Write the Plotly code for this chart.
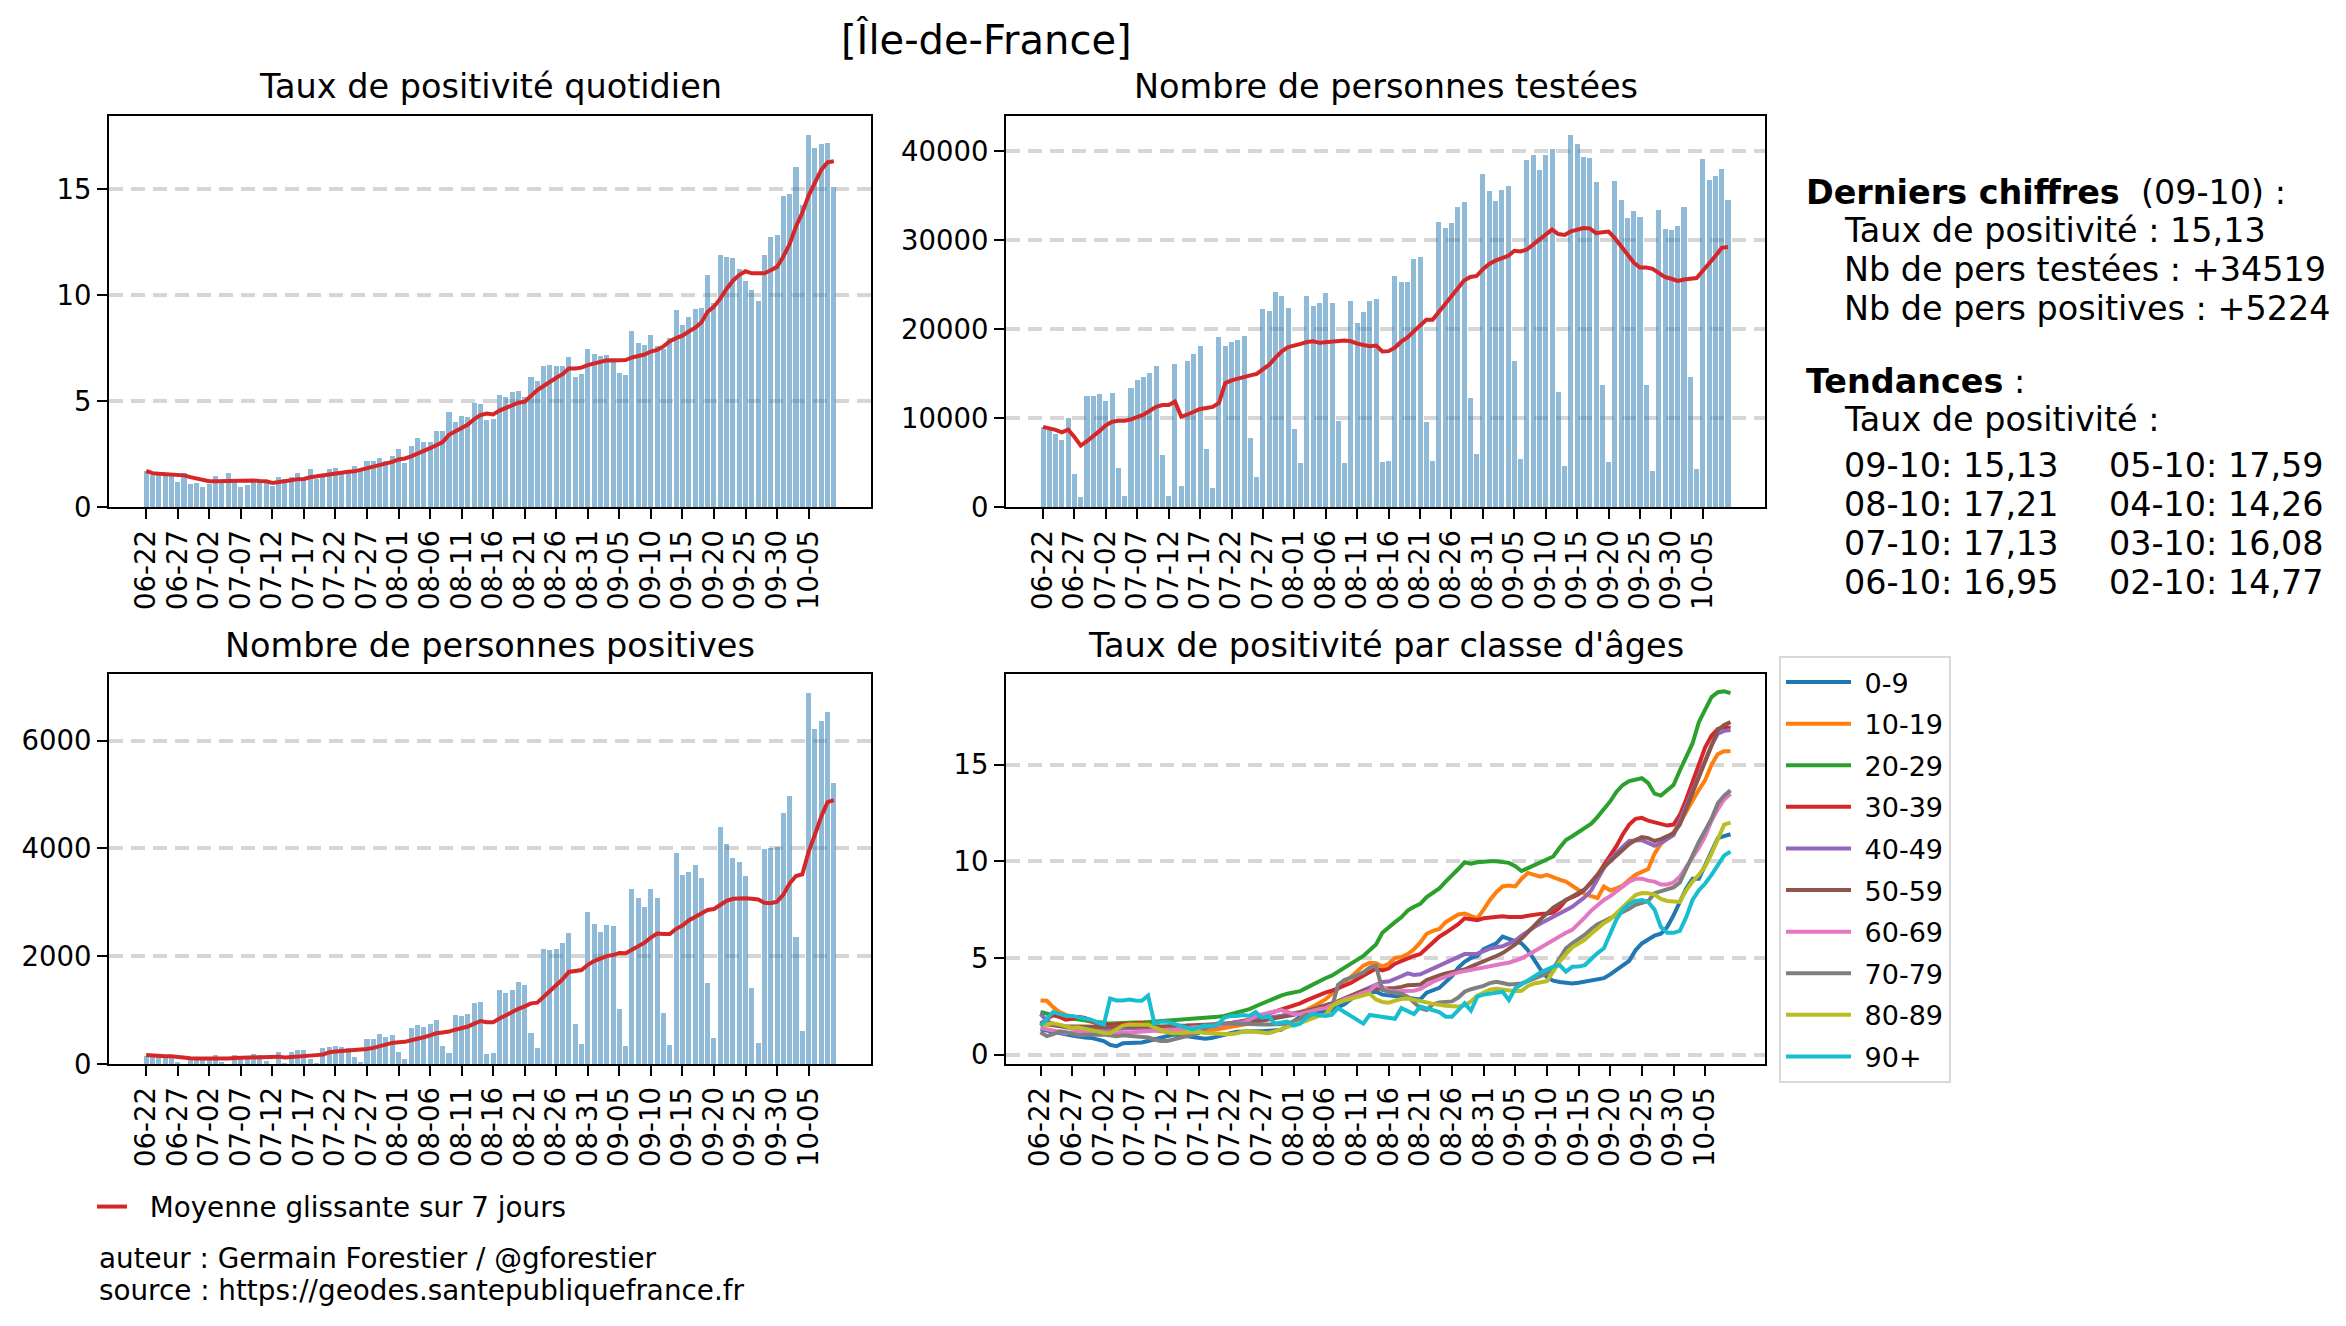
import pandas as pd
import plotly.graph_objects as go

# page is 2346x1326; the html body keeps an 8px margin, so the figure is 16px smaller
PAGE_W, PAGE_H = 2346, 1326
BODY_MARGIN = 8
W, H = PAGE_W - 2 * BODY_MARGIN, PAGE_H - 2 * BODY_MARGIN
FONT = "DejaVu Sans"

# ---------------- data ----------------
DATES = pd.date_range("2020-06-22", "2020-10-09").strftime("%m-%d").tolist()
TICK_LABELS = DATES[::5]

TAUX = [1.70, 1.50, 1.50, 1.50, 1.46, 1.20, 1.60, 1.10, 1.13, 0.95,
        1.07, 1.46, 1.26, 1.60, 1.20, 0.95, 1.04, 1.26, 1.26, 1.23,
        1.00, 1.40, 1.32, 1.40, 1.60, 1.32, 1.80, 1.32, 1.57, 1.80,
        1.84, 1.67, 1.67, 1.92, 1.80, 2.17, 2.17, 2.30, 2.17, 2.39,
        2.74, 2.09, 2.86, 3.24, 3.07, 3.05, 3.60, 3.58, 4.47, 4.00,
        4.30, 4.25, 4.90, 4.87, 4.12, 4.15, 5.27, 5.19, 5.42, 5.47,
        5.22, 6.13, 5.94, 6.64, 6.70, 6.64, 6.64, 7.08, 6.13, 6.26,
        7.48, 7.25, 7.12, 7.17, 7.04, 6.32, 6.23, 8.30, 7.74, 7.63,
        8.14, 7.61, 7.45, 7.96, 9.29, 8.58, 8.99, 9.37, 9.40, 10.97,
        9.65, 11.92, 11.79, 11.74, 11.23, 10.66, 10.27, 9.72, 11.89, 12.77,
        12.86, 14.67, 14.77, 16.08, 14.26, 17.59, 16.95, 17.13, 17.21, 15.13]

TESTES = [9006, 8743, 8255, 7542, 9981, 3677, 1126, 12458, 12458, 12683,
          11932, 12833, 4390, 1238, 13396, 14259, 14634, 15047, 15835, 5854,
          1238, 16060, 2364, 16435, 17186, 18086, 6529, 2139, 19099, 18086,
          18574, 18762, 19212, 7730, 3377, 22289, 22064, 24203, 23752, 22402,
          8780, 4953, 23752, 22627, 22964, 24090, 22964, 9681, 4953, 23189,
          20713, 21951, 23189, 23415, 5066, 5178, 26004, 25328, 25328, 27917,
          28142, 9568, 5178, 32083, 31407, 31970, 33771, 34334, 12308, 5966,
          37486, 35572, 34446, 35685, 36135, 16435, 5403, 39062, 39625, 37936,
          39625, 40300, 12946, 4615, 41876, 40863, 39400, 39287, 36585, 13733,
          5066, 36698, 34559, 32533, 33321, 32645, 13733, 4053, 33433, 31295,
          31182, 31632, 33771, 14634, 4278, 39175, 36810, 37261, 38049, 34519]

POSITIFS = [167, 142, 142, 130, 142, 40, 15, 124, 124, 124,
            117, 173, 50, 15, 173, 142, 142, 192, 173, 68,
            12, 229, 28, 229, 266, 266, 110, 25, 303, 321,
            340, 321, 303, 142, 43, 470, 470, 562, 507, 544,
            229, 99, 674, 729, 692, 748, 822, 340, 210, 915,
            896, 933, 1137, 1156, 192, 210, 1378, 1329, 1378, 1526,
            1477, 581, 303, 2138, 2120, 2138, 2249, 2435, 748, 377,
            2824, 2602, 2453, 2583, 2565, 1026, 340, 3251, 3084, 2917,
            3251, 3084, 952, 358, 3918, 3510, 3566, 3696, 3455, 1508,
            488, 4400, 4085, 3825, 3751, 3492, 1415, 396, 3992, 4011,
            4030, 4660, 4975, 2361, 618, 6903, 6236, 6384, 6551, 5224]

AGE_CLASSES = ["0-9", "10-19", "20-29", "30-39", "40-49",
               "50-59", "60-69", "70-79", "80-89", "90+"]
AGE_COLORS = ["#1f77b4", "#ff7f0e", "#2ca02c", "#d62728", "#9467bd",
              "#8c564b", "#e377c2", "#7f7f7f", "#bcbd22", "#17becf"]

TAUX_0_9 = [1.30, 1.25, 1.20, 1.12, 1.05, 0.98, 0.92, 0.88, 0.86, 0.80,
            0.70, 0.50, 0.43, 0.58, 0.60, 0.60, 0.62, 0.70, 0.77, 0.85,
            0.95, 1.03, 1.00, 0.96, 0.94, 0.88, 0.82, 0.85, 0.95, 1.03,
            1.10, 1.18, 1.20, 1.22, 1.20, 1.20, 1.22, 1.25, 1.28, 1.50,
            1.75, 1.95, 2.05, 2.10, 2.15, 2.20, 2.30, 2.45, 2.60, 2.85,
            3.15, 3.20, 3.25, 3.25, 3.10, 3.05, 3.02, 3.00, 2.95, 2.85,
            2.85, 3.20, 3.35, 3.45, 3.75, 4.05, 4.50, 4.80, 5.00, 5.10,
            5.45, 5.60, 5.75, 6.10, 6.00, 5.90, 5.75, 5.40, 4.90, 4.40,
            4.00, 3.82, 3.75, 3.70, 3.68, 3.72, 3.77, 3.80, 3.86, 3.95,
            4.15, 4.40, 4.60, 4.85, 5.40, 5.75, 5.95, 6.15, 6.25, 6.60,
            7.20, 7.90, 8.60, 9.10, 9.10, 9.80, 10.50, 11.20, 11.30, 11.40]

TAUX_10_19 = [2.80, 2.78, 2.45, 2.20, 2.05, 1.95, 1.85, 1.75, 1.65, 1.60,
              1.55, 1.50, 1.45, 1.42, 1.40, 1.38, 1.35, 1.30, 1.25, 1.20,
              1.15, 1.12, 1.10, 1.10, 1.12, 1.15, 1.20, 1.25, 1.30, 1.35,
              1.40, 1.45, 1.50, 1.55, 1.65, 1.75, 1.85, 1.95, 2.00, 2.08,
              2.12, 2.20, 2.30, 2.45, 2.65, 2.85, 3.10, 3.40, 3.70, 4.00,
              4.35, 4.60, 4.75, 4.72, 4.55, 4.70, 5.00, 5.05, 5.20, 5.45,
              5.80, 6.25, 6.40, 6.50, 6.85, 7.05, 7.25, 7.30, 7.15, 7.05,
              7.50, 8.00, 8.40, 8.70, 8.75, 8.70, 9.10, 9.40, 9.30, 9.20,
              9.30, 9.15, 9.05, 8.95, 8.75, 8.50, 8.30, 8.20, 8.10, 8.70,
              8.50, 8.60, 8.75, 9.05, 9.30, 9.45, 9.60, 10.40, 10.90, 11.20,
              11.50, 12.00, 12.60, 13.20, 13.70, 14.20, 15.00, 15.55, 15.70, 15.70]

TAUX_20_29 = [2.20, 2.10, 2.00, 1.95, 1.90, 1.85, 1.80, 1.75, 1.72, 1.68,
              1.62, 1.60, 1.62, 1.65, 1.65, 1.66, 1.66, 1.68, 1.70, 1.72,
              1.76, 1.80, 1.82, 1.85, 1.87, 1.88, 1.88, 1.90, 1.95, 2.00,
              2.08, 2.15, 2.25, 2.35, 2.50, 2.65, 2.80, 2.92, 3.05, 3.15,
              3.22, 3.28, 3.45, 3.62, 3.80, 3.95, 4.08, 4.30, 4.50, 4.70,
              4.90, 5.10, 5.40, 5.70, 6.30, 6.60, 6.85, 7.10, 7.45, 7.65,
              7.80, 8.15, 8.40, 8.60, 8.95, 9.25, 9.60, 9.95, 9.88, 9.95,
              10.00, 10.00, 10.00, 9.98, 9.92, 9.75, 9.50, 9.65, 9.80, 9.90,
              10.10, 10.25, 10.70, 11.10, 11.30, 11.50, 11.70, 11.95, 12.30, 12.70,
              13.10, 13.60, 13.95, 14.15, 14.25, 14.30, 14.05, 13.50, 13.40, 13.65,
              13.95, 14.70, 15.35, 16.10, 17.20, 17.90, 18.50, 18.75, 18.80, 18.70]

TAUX_30_39 = [1.60, 1.85, 2.05, 1.95, 1.80, 1.85, 1.95, 1.90, 1.75, 1.60,
              1.55, 1.52, 1.55, 1.58, 1.60, 1.62, 1.63, 1.55, 1.40, 1.30,
              1.28, 1.30, 1.32, 1.35, 1.38, 1.40, 1.42, 1.45, 1.50, 1.55,
              1.60, 1.65, 1.70, 1.80, 1.90, 2.00, 2.10, 2.20, 2.35, 2.45,
              2.55, 2.65, 2.80, 2.95, 3.10, 3.20, 3.30, 3.42, 3.55, 3.70,
              3.90, 4.10, 4.30, 4.45, 4.35, 4.45, 4.70, 4.85, 5.00, 5.10,
              5.20, 5.50, 5.85, 6.10, 6.30, 6.50, 6.75, 7.05, 7.00, 6.95,
              7.05, 7.10, 7.15, 7.15, 7.12, 7.10, 7.12, 7.18, 7.25, 7.28,
              7.30, 7.35, 7.60, 8.00, 8.15, 8.30, 8.55, 8.90, 9.30, 9.80,
              10.30, 10.80, 11.40, 11.90, 12.20, 12.25, 12.10, 12.00, 11.90, 11.85,
              11.90, 12.40, 13.20, 14.10, 15.10, 15.90, 16.50, 16.85, 16.95, 16.90]

TAUX_40_49 = [2.10, 1.75, 1.55, 1.45, 1.40, 1.38, 1.35, 1.35, 1.35, 1.33,
              1.30, 1.30, 1.32, 1.35, 1.38, 1.40, 1.40, 1.40, 1.38, 1.35,
              1.35, 1.38, 1.40, 1.42, 1.45, 1.48, 1.50, 1.52, 1.55, 1.58,
              1.62, 1.66, 1.70, 1.75, 1.80, 1.85, 1.90, 1.95, 2.00, 2.05,
              2.10, 2.15, 2.20, 2.30, 2.40, 2.50, 2.62, 2.75, 2.90, 3.05,
              3.15, 3.30, 3.45, 3.65, 3.75, 3.78, 3.90, 4.05, 4.20, 4.12,
              4.15, 4.30, 4.45, 4.60, 4.75, 4.88, 5.05, 5.20, 5.20, 5.22,
              5.35, 5.48, 5.55, 5.60, 5.75, 5.90, 6.15, 6.40, 6.60, 6.78,
              6.95, 7.15, 7.30, 7.45, 7.65, 7.90, 8.15, 8.50, 9.10, 9.65,
              10.10, 10.45, 10.75, 11.05, 11.10, 11.10, 10.95, 10.80, 10.95, 11.15,
              11.35, 12.10, 12.90, 13.70, 14.50, 15.20, 16.00, 16.60, 16.75, 16.80]

TAUX_50_59 = [1.60, 1.55, 1.50, 1.48, 1.46, 1.45, 1.45, 1.44, 1.42, 1.40,
              1.40, 1.42, 1.45, 1.46, 1.46, 1.48, 1.50, 1.50, 1.48, 1.45,
              1.45, 1.48, 1.50, 1.50, 1.52, 1.55, 1.55, 1.56, 1.58, 1.58,
              1.60, 1.62, 1.62, 1.65, 1.70, 1.75, 1.80, 1.85, 1.92, 2.00,
              2.05, 2.15, 2.25, 2.35, 2.45, 2.52, 2.62, 2.75, 2.90, 3.05,
              3.18, 3.30, 3.38, 3.42, 3.40, 3.40, 3.45, 3.50, 3.58, 3.60,
              3.62, 3.85, 4.00, 4.10, 4.20, 4.25, 4.32, 4.40, 4.55, 4.68,
              4.80, 4.95, 5.10, 5.25, 5.45, 5.70, 6.00, 6.35, 6.70, 7.00,
              7.30, 7.60, 7.80, 8.00, 8.15, 8.35, 8.55, 8.90, 9.30, 9.70,
              10.00, 10.30, 10.65, 10.90, 11.10, 11.25, 11.20, 11.05, 11.15, 11.30,
              11.45, 11.90, 12.70, 13.50, 14.35, 15.20, 16.00, 16.80, 17.05, 17.20]

TAUX_60_69 = [1.37, 1.30, 1.22, 1.12, 1.10, 1.15, 1.20, 1.20, 1.18, 1.15,
              1.12, 1.10, 1.10, 1.12, 1.15, 1.18, 1.20, 1.20, 1.22, 1.25,
              1.28, 1.28, 1.30, 1.35, 1.40, 1.45, 1.45, 1.47, 1.50, 1.52,
              1.55, 1.58, 1.65, 1.80, 2.00, 2.08, 2.15, 2.22, 2.30, 2.20,
              2.08, 2.10, 2.20, 2.28, 2.35, 2.40, 2.55, 2.75, 2.85, 2.95,
              3.10, 3.20, 3.30, 3.60, 3.50, 3.30, 3.28, 3.30, 3.30, 3.30,
              3.40, 3.60, 3.77, 3.90, 4.05, 4.15, 4.25, 4.32, 4.40, 4.46,
              4.52, 4.58, 4.65, 4.70, 4.75, 4.85, 4.98, 5.15, 5.35, 5.55,
              5.75, 5.95, 6.15, 6.30, 6.45, 6.75, 7.10, 7.45, 7.75, 8.00,
              8.20, 8.45, 8.75, 8.95, 9.10, 9.10, 9.00, 8.95, 8.80, 8.80,
              8.90, 9.20, 9.70, 10.20, 10.70, 11.30, 12.10, 12.70, 13.20, 13.50]

TAUX_70_79 = [1.15, 0.95, 1.05, 1.20, 1.15, 1.05, 1.00, 1.02, 1.05, 1.03,
              1.03, 1.00, 0.95, 1.00, 0.98, 0.95, 0.94, 0.88, 0.78, 0.70,
              0.70, 0.78, 0.85, 0.95, 1.05, 1.10, 1.35, 1.55, 1.60, 1.62,
              1.60, 1.60, 1.58, 1.55, 1.55, 1.55, 1.55, 1.55, 1.58, 1.62,
              1.70, 1.85, 2.05, 2.05, 2.05, 2.05, 2.40, 3.60, 3.85, 3.95,
              4.10, 4.25, 4.50, 4.60, 3.35, 3.25, 3.20, 3.15, 3.00, 2.70,
              2.40, 2.30, 2.60, 2.70, 2.72, 2.75, 2.95, 3.25, 3.38, 3.45,
              3.55, 3.70, 3.77, 3.70, 3.63, 3.65, 3.68, 3.80, 3.92, 4.05,
              4.20, 4.45, 5.00, 5.50, 5.75, 5.95, 6.20, 6.50, 6.75, 6.90,
              7.05, 7.20, 7.35, 7.55, 7.75, 7.85, 7.95, 8.35, 8.45, 8.50,
              8.65, 8.90, 9.60, 10.40, 11.00, 11.60, 12.20, 13.00, 13.40, 13.67]

TAUX_80_89 = [1.50, 1.58, 1.62, 1.55, 1.45, 1.38, 1.40, 1.35, 1.30, 1.20,
              1.12, 1.10, 1.30, 1.50, 1.55, 1.54, 1.52, 1.54, 1.40, 1.25,
              1.15, 1.10, 1.12, 1.15, 1.20, 1.18, 1.12, 1.10, 1.05, 1.03,
              1.05, 1.10, 1.18, 1.20, 1.15, 1.10, 1.10, 1.20, 1.32, 1.45,
              1.55, 1.63, 1.75, 1.88, 2.00, 2.05, 2.50, 2.70, 2.80, 2.90,
              3.00, 3.10, 3.15, 2.85, 2.72, 2.68, 2.80, 2.88, 2.90, 2.85,
              2.78, 2.70, 2.62, 2.56, 2.52, 2.50, 2.48, 2.55, 2.75, 3.05,
              3.20, 3.35, 3.40, 3.36, 3.32, 3.28, 3.30, 3.55, 3.68, 3.72,
              3.80, 4.30, 4.80, 5.20, 5.55, 5.75, 5.95, 6.25, 6.55, 6.80,
              7.00, 7.30, 7.65, 7.95, 8.25, 8.36, 8.35, 8.28, 8.05, 7.95,
              7.92, 7.90, 8.50, 8.95, 9.30, 9.75, 10.40, 11.20, 11.90, 12.00]

TAUX_90_PLUS = [1.50, 1.85, 2.20, 2.10, 2.00, 2.00, 1.95, 1.90, 1.80, 1.65,
                1.55, 2.90, 2.80, 2.80, 2.85, 2.80, 2.78, 3.05, 1.60, 1.70,
                1.70, 1.60, 1.50, 1.35, 1.30, 1.40, 1.50, 1.45, 1.55, 1.90,
                2.00, 2.00, 2.05, 2.00, 2.20, 1.90, 2.00, 1.60, 1.65, 1.70,
                1.50, 1.60, 1.90, 2.10, 2.05, 2.00, 2.05, 2.40, 2.20, 2.00,
                1.80, 1.60, 2.05, 2.00, 1.90, 1.88, 1.85, 2.40, 2.25, 2.10,
                2.48, 2.40, 2.30, 2.20, 1.96, 1.96, 2.30, 2.65, 2.27, 3.00,
                3.10, 3.17, 3.20, 3.25, 2.82, 3.43, 3.65, 3.85, 4.06, 4.25,
                4.40, 4.55, 4.63, 4.29, 4.54, 4.55, 4.63, 4.95, 5.25, 5.50,
                6.30, 7.00, 7.50, 7.80, 7.95, 8.00, 7.90, 7.50, 6.60, 6.30,
                6.30, 6.40, 7.10, 8.00, 8.50, 8.85, 9.30, 9.80, 10.30, 10.50]

AGE_SERIES = [TAUX_0_9, TAUX_10_19, TAUX_20_29, TAUX_30_39, TAUX_40_49,
              TAUX_50_59, TAUX_60_69, TAUX_70_79, TAUX_80_89, TAUX_90_PLUS]

TAUX_MA = pd.Series(TAUX).rolling(7, min_periods=1).mean().tolist()
TESTES_MA = pd.Series(TESTES).rolling(7, min_periods=1).mean().tolist()
POSITIFS_MA = pd.Series(POSITIFS).rolling(7, min_periods=1).mean().tolist()

# ---------------- figure ----------------
BAR_COLOR = "rgba(31,119,180,0.5)"
RED = "#d62728"
NB = "\u00a0"

fig = go.Figure()

panels = [("x", "y", TAUX, TAUX_MA, True),
          ("x2", "y2", TESTES, TESTES_MA, False),
          ("x3", "y3", POSITIFS, POSITIFS_MA, False)]
for xa, ya, vals, ma, show in panels:
    fig.add_trace(go.Bar(x=DATES, y=vals, xaxis=xa, yaxis=ya, width=0.8,
                         marker=dict(color=BAR_COLOR, line=dict(width=0)),
                         showlegend=False))
    fig.add_trace(go.Scatter(x=DATES, y=ma, xaxis=xa, yaxis=ya, mode="lines",
                             line=dict(color=RED, width=4),
                             name=NB * 2 + "Moyenne glissante sur 7 jours",
                             showlegend=show, legend="legend2"))

for name, color, vals in zip(AGE_CLASSES, AGE_COLORS, AGE_SERIES):
    fig.add_trace(go.Scatter(x=DATES, y=vals, xaxis="x4", yaxis="y4", mode="lines",
                             line=dict(color=color, width=4), name=NB + name,
                             legendgroup=name, legend="legend"))


def px_x(p):
    """page pixel -> figure paper fraction"""
    return (p - BODY_MARGIN) / W


def px_y(p):
    return 1 - (p - BODY_MARGIN) / H


TICKFONT = dict(family=FONT, size=27.5, color="black")


def xaxis(domain, rng, anchor):
    return dict(domain=domain, anchor=anchor, type="category", range=rng,
                showline=True, linecolor="black", linewidth=2, mirror=True,
                ticks="outside", ticklen=10, tickwidth=2, tickcolor="black",
                tickangle=-90, tickmode="array", tickvals=TICK_LABELS,
                ticktext=TICK_LABELS, tickfont=TICKFONT, showgrid=False,
                zeroline=False, automargin=False)


def yaxis(domain, rng, anchor, tickvals):
    return dict(domain=domain, anchor=anchor, range=rng,
                showline=True, linecolor="black", linewidth=2, mirror=True,
                ticks="outside", ticklen=10, tickwidth=2, tickcolor="black",
                tickmode="array", tickvals=tickvals, tickformat="d",
                tickfont=TICKFONT, showgrid=True, gridcolor="#d6d6d6",
                griddash="14px,8px", gridwidth=3.5, zeroline=False,
                automargin=False)


TOP_ROW = [px_y(507), px_y(116)]
BOT_ROW = [px_y(1064), px_y(673.5)]
LEFT_COL = [px_x(109), px_x(871)]
RIGHT_COL = [px_x(1006), px_x(1765)]

annotations = []


def text(x, y, s, size, xanchor="left", yanchor="middle"):
    annotations.append(dict(x=px_x(x), y=px_y(y), xref="paper", yref="paper",
                            text=s, showarrow=False, xanchor=xanchor,
                            yanchor=yanchor,
                            font=dict(family=FONT, size=size, color="black")))


text(987, 40, "[Île-de-France]", 40, "center")
text(490, 87, "Taux de positivité quotidien", 33.5, "center")
text(1386, 87, "Nombre de personnes testées", 33.5, "center")
text(490, 645, "Nombre de personnes positives", 33.5, "center")
text(1386, 645, "Taux de positivité par classe d'âges", 33.5, "center")

text(1804, 192, "<b>Derniers chiffres</b>" + NB * 2 + "(09-10) :", 33.4)
text(1842, 231, "Taux de positivité : 15,13", 33.4)
text(1842, 270, "Nb de pers testées : +34519", 33.4)
text(1842, 309, "Nb de pers positives : +5224", 33.4)
text(1804, 381, "<b>Tendances</b> :", 33.4)
text(1842, 419, "Taux de positivité :", 33.4)
TREND_LEFT = ["09-10: 15,13", "08-10: 17,21", "07-10: 17,13", "06-10: 16,95"]
TREND_RIGHT = ["05-10: 17,59", "04-10: 14,26", "03-10: 16,08", "02-10: 14,77"]
for k, (a, b) in enumerate(zip(TREND_LEFT, TREND_RIGHT)):
    yy = 465 + k * 39.3
    text(1842, yy, a, 33.4)
    text(2107, yy, b, 33.4)

text(97, 1258, "auteur : Germain Forestier / @gforestier", 27.8)
text(97, 1290, "source : https://geodes.santepubliquefrance.fr", 27.8)

fig.update_layout(
    width=W, height=H,
    margin=dict(l=0, r=0, t=0, b=0, pad=0, autoexpand=False),
    paper_bgcolor="white", plot_bgcolor="white",
    font=dict(family=FONT, size=27, color="black"),
    bargap=0,
    xaxis=xaxis(LEFT_COL, [-5.89, 114.89], "y"),
    yaxis=yaxis(TOP_ROW, [0, 18.47], "x", [0, 5, 10, 15]),
    xaxis2=xaxis(RIGHT_COL, [-5.89, 114.89], "y2"),
    yaxis2=yaxis(TOP_ROW, [0, 43970], "x2", [0, 10000, 20000, 30000, 40000]),
    xaxis3=xaxis(LEFT_COL, [-5.89, 114.89], "y3"),
    yaxis3=yaxis(BOT_ROW, [0, 7248], "x3", [0, 2000, 4000, 6000]),
    xaxis4=xaxis(RIGHT_COL, [-5.45, 114.45], "y4"),
    yaxis4=yaxis(BOT_ROW, [-0.49, 19.72], "x4", [0, 5, 10, 15]),
    legend=dict(x=px_x(1779), y=px_y(656), xanchor="left", yanchor="top",
                bordercolor="#d9d9d9", borderwidth=2, bgcolor="white",
                font=dict(family=FONT, size=27, color="black"),
                traceorder="grouped", tracegroupgap=3.5, itemwidth=65),
    legend2=dict(x=px_x(92), y=px_y(1207), xanchor="left", yanchor="middle",
                 bgcolor="rgba(0,0,0,0)", borderwidth=0,
                 font=dict(family=FONT, size=27.8, color="black")),
    annotations=annotations,
)

fig.write_html("out.html", config={"displayModeBar": False})
